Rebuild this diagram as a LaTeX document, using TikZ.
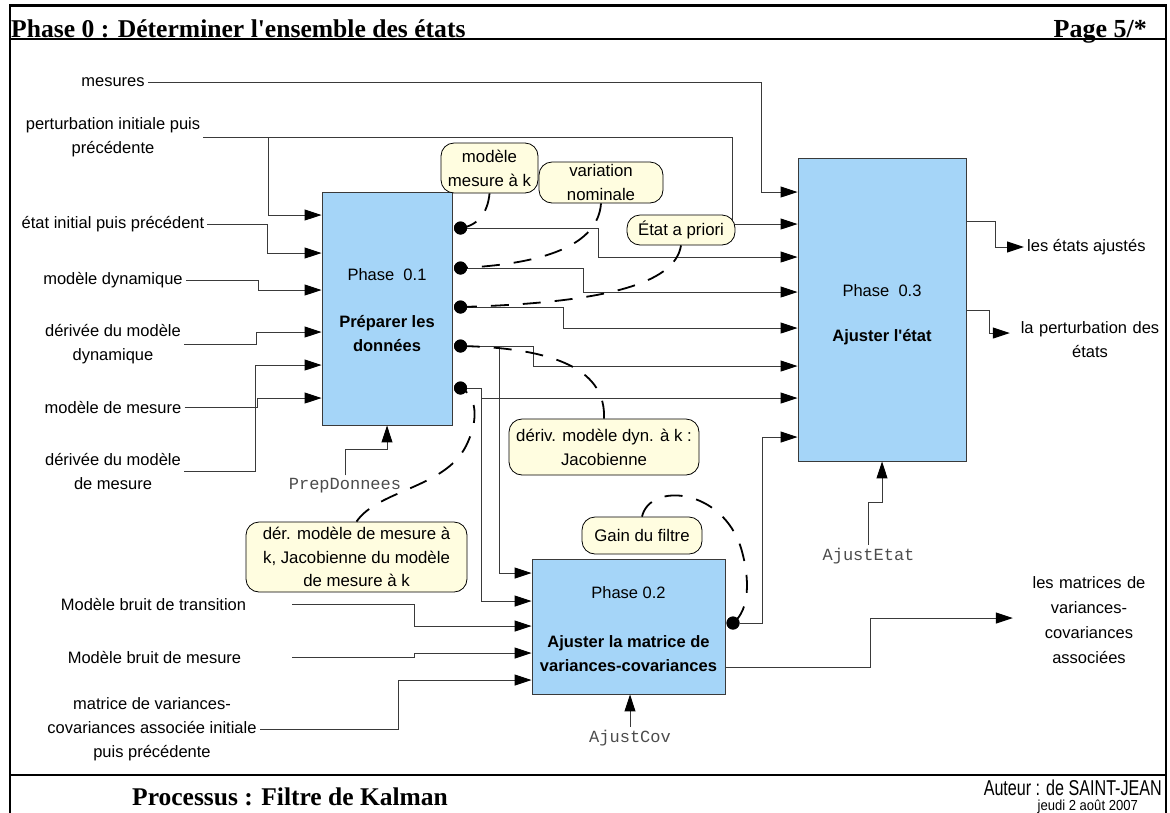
\documentclass[tikz,border=0pt]{standalone}
\usepackage{fontspec}
\setmainfont{Liberation Sans}
\setmonofont{Liberation Mono}
\newfontfamily\titrefont{Liberation Serif}
\newfontfamily\etroitfont[FakeStretch=0.75]{Liberation Sans}
\newfontfamily\datefont[FakeStretch=0.9]{Liberation Sans}
\usetikzlibrary{arrows.meta, positioning, calc}

\definecolor{boitebleu}{HTML}{A5D5F8}
\definecolor{bullejaune}{HTML}{FFFDE0}
\definecolor{fil}{HTML}{3A3A3A}

\tikzset{
  boite/.style={draw=fil, fill=boitebleu, line width=0.9pt, inner sep=0pt},
  lbl/.style={font=\fontsize{16.5}{24}\selectfont, align=center, inner sep=3pt},
  lblb/.style={lbl, font=\fontsize{16.5}{24}\selectfont\bfseries},
  code/.style={font=\fontsize{17}{20}\selectfont\ttfamily, text=black!70, inner sep=3pt},
  bulle/.style={draw, fill=bullejaune, rounded corners=13pt, align=center, inner sep=0pt,
    line width=0.8pt, font=\fontsize{16.8}{24}\selectfont},
  conn/.style={draw=fil, line width=1pt, -{Triangle[length=17pt,width=11pt,color=black]}},
  queue/.style={line width=1.8pt, dash pattern=on 18pt off 14pt},
  point/.style={circle, fill=black, inner sep=0pt, minimum size=13pt},
  cadre/.style={line width=2.7pt},
}

\begin{document}
\begin{tikzpicture}[x=1pt, y=-1pt]
\useasboundingbox (0,0) rectangle (1170,812);
% Cadre, en-tete et pied de page
\draw[cadre] (10,5.5) rectangle (1166,830);
\draw[cadre] (10,39) -- (1166,39);
\draw[cadre] (10,775) -- (1166,775);
\node[anchor=base west, inner sep=0pt, font=\titrefont\bfseries\fontsize{25.6}{30}\selectfont] (titre) at (11,37) {Phase 0 : Déterminer l\textquotesingle ensemble des états};
\node[anchor=base east, inner sep=0pt, font=\titrefont\bfseries\fontsize{26}{30}\selectfont] (page) at (1147,37) {Page 5/*};
\node[anchor=base west, inner sep=0pt, font=\titrefont\bfseries\fontsize{25.5}{30}\selectfont] (proc) at (132,805) {Processus : Filtre de Kalman};
\node[anchor=base east, inner sep=0pt, font=\etroitfont\fontsize{21.5}{22}\selectfont] (auteur) at (1162,795) {Auteur : de SAINT-JEAN};
\node[anchor=base east, inner sep=0pt, font=\datefont\fontsize{14.5}{15}\selectfont] (date) at (1138,810) {jeudi 2 août 2007};

% Les trois phases
\node[boite, minimum width=130pt, minimum height=233pt] (box1) at (387,308.5) {};
\node[boite, minimum width=193pt, minimum height=135pt] (box2) at (628.5,626.5) {};
\node[boite, minimum width=168pt, minimum height=303pt] (box3) at (882,309.5) {};
\node[lbl] (t1a) at (387,275) {Phase~~0.1};
\node[lblb] (t1b) at (387,334) {Préparer les\\données};
\node[lbl] (t2a) at (628.5,593) {Phase 0.2};
\node[lblb] (t2b) at (628.5,653.5) {Ajuster la matrice de\\variances-covariances};
\node[lbl] (t3a) at (882,291) {Phase~~0.3};
\node[lblb] (t3b) at (882,337) {Ajuster l\textquotesingle état};

% Entrees a gauche
\node[lbl] (mes) at (113,82) {mesures};
\node[lbl] (pert) at (113,137) {perturbation initiale puis\\précédente};
\node[lbl] (etat) at (113,224) {état initial puis précédent};
\node[lbl] (mdyn) at (113,280) {modèle dynamique};
\node[lbl] (ddyn) at (113,344) {dérivée du modèle\\dynamique};
\node[lbl] (mmes) at (113,407) {modèle de mesure};
\node[lbl] (dmes) at (113,471) {dérivée du modèle\\de mesure};
\node[lbl] (trans) at (153.5,604) {Modèle bruit de transition};
\node[lbl] (bmes) at (154.5,657) {Modèle bruit de mesure};
\node[lbl] (mat) at (152,729) {matrice de variances-\\covariances associée initiale\\puis précédente};

% Sorties a droite
\node[lbl, anchor=west] (etaj) at (1024,247) {les états ajustés};
\node[lbl, text width=154pt] (pert2) at (1090,340) {la perturbation des\\états};
\node[lbl, text width=146pt, font=\fontsize{16.5}{25}\selectfont] (mat2) at (1089,620) {les matrices de\\variances-\\covariances\\associées};

% Mecanismes
\node[code] (prep) at (345,486) {PrepDonnees};
\node[code] (ajet) at (868.5,556) {AjustEtat};
\node[code] (ajcov) at (630,738) {AjustCov};

% Points de sortie
\node[point] (d1) at (460.5,228) {};
\node[point] (d2) at (460.5,268) {};
\node[point] (d3) at (460.5,307) {};
\node[point] (d4) at (460.5,346) {};
\node[point] (d5) at (460.5,388) {};
\node[point] (d6) at (733,623) {};

% Connexions vers la phase 0.3
\draw[conn] (mes.east) -| (761,192) -- (box3.west |- 0,192);
\draw[conn] (pert.east) -| (732,224) -- (box3.west |- 0,224);
\foreach \n/\bx/\ty in {1/598/257, 2/583/292, 3/563/328, 4/533/366, 5/481/398} {
  \draw[conn] (d\n.east) -| (\bx,\ty) -- (box3.west |- 0,\ty);
}
\draw[conn] (d6.east) -| (762,437) -- (box3.west |- 0,437);
\draw[conn] (ajet.north) |- (box3.south |- 0,502) -- (box3.south);

% Connexions vers la phase 0.1
\draw[conn] (pert.east -| 268,0) |- (box1.west |- 0,215);
\draw[conn] (etat.east) -| (267,253) -- (box1.west |- 0,253);
\draw[conn] (mdyn.east) -| (258,290) -- (box1.west |- 0,290);
\draw[conn] (ddyn.east) -| (256,332) -- (box1.west |- 0,332);
\draw[conn] (dmes.east) -| (255,365) -- (box1.west |- 0,365);
\draw[conn] (mmes.east) -| (257,398) -- (box1.west |- 0,398);
\draw[conn] (prep.north) |- (box1.south |- 0,449) -- (box1.south);

% Connexions vers la phase 0.2
\draw[conn] (d4.east) -| (499,573) -- (box2.west |- 0,573);
\draw[conn] (d5.east) -| (481,601) -- (box2.west |- 0,601);
\draw[conn] ([xshift=43pt]trans.east) -| (414,626) -- (box2.west |- 0,626);
\draw[conn] ([xshift=48pt]bmes.east) -| (414,653) -- (box2.west |- 0,653);
\draw[conn] (mat.east) -| (398,680) -- (box2.west |- 0,680);
\draw[conn] (ajcov.north) -- (ajcov.north |- box2.south);

% Sorties
\draw[conn] (box3.east |- 0,221) -| (995,247) -- (etaj.west);
\draw[conn] (box3.east |- 0,310) -| (989,333) -- (pert2.west |- 0,333);
\draw[conn] (box2.east |- 0,667) -| (870,618) -- (mat2.west |- 0,618);

% Bulles de commentaire
\node[bulle, minimum width=97pt, minimum height=50pt] (b1) at (489.5,168) {modèle\\mesure à k};
\node[bulle, minimum width=124pt, minimum height=41pt] (b2) at (601,182.5) {variation\\nominale};
\node[bulle, minimum width=108pt, minimum height=30pt] (b3) at (681,230) {État a priori};
\node[bulle, minimum width=190pt, minimum height=56pt] (b4) at (604,447) {dériv. modèle dyn. à k :\\Jacobienne};
\node[bulle, minimum width=120pt, minimum height=37pt] (b5) at (642,535.5) {Gain du filtre};
\node[bulle, minimum width=221pt, minimum height=70pt, font=\fontsize{16.8}{23.5}\selectfont] (b6) at (356.5,557) {dér. modèle de mesure à\\k, Jacobienne du modèle\\de mesure à k};

% Queues des bulles
\draw[queue] (b1.south) .. controls (488,212) and (478,226) .. (d1.center);
\draw[queue] (b2.south) .. controls (598,245) and (545,264) .. (d2.center);
\draw[queue] (b3.south) .. controls (675,285) and (600,303) .. (d3.center);
\draw[queue] (b4.north) .. controls (606,372) and (560,348) .. (d4.center);
\draw[queue] (b5.north) .. controls (650,482) and (722,488) .. (741,548) .. controls (750,578) and (750,610) .. (d6.center);
\draw[queue] (b6.north) .. controls (378,490) and (445,488) .. (466,446) .. controls (480,418) and (476,395) .. (d5.center);
\foreach \n in {1,...,6} { \node[point] at (d\n) {}; }
\end{tikzpicture}
\end{document}
